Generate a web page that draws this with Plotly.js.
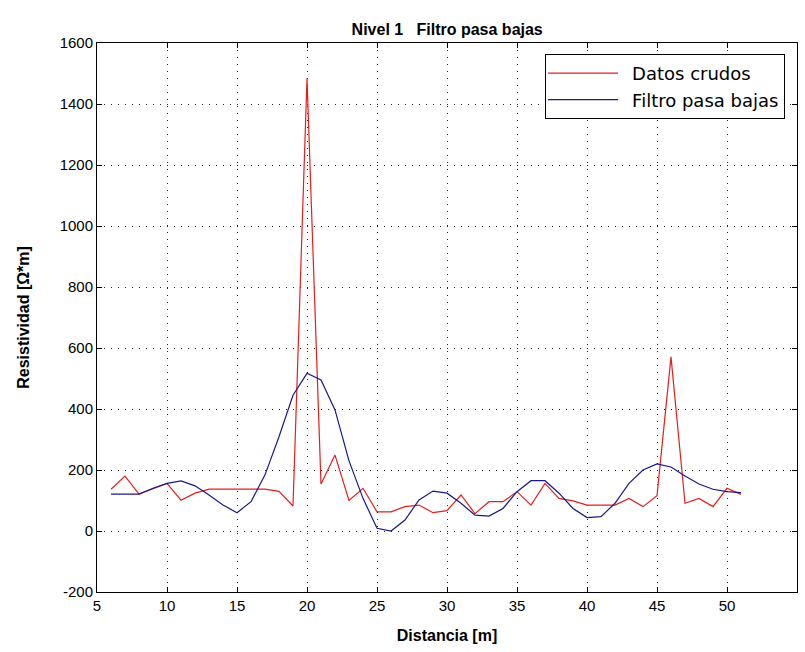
<!DOCTYPE html>
<html>
<head>
<meta charset="utf-8">
<script src="https://cdn.plot.ly/plotly-3.0.1.min.js"></script>
<style>html,body{margin:0;padding:0;background:#fff;}#chart{width:805px;height:652px;}</style>
</head>
<body>
<div id="chart"></div>
<script>
const distancia = [6,7,8,9,10,11,12,13,14,15,16,17,18,19,20,21,22,23,24,25,26,27,28,29,30,31,32,33,34,35,36,37,38,39,40,41,42,43,44,45,46,47,48,49,50,51];
const datosCrudos = [137,180,121,138,156,101,124,137,137,137,137,137,130,82,1484,154,249,100,140,63,63,80,85,60,67,118,57,96,96,129,85,156,107,99,85,85,85,107,80,116,571,91,107,80,140,120];
const filtroPasaBajas = [121,121,121,140,156,164,148,118,85,60,96,184,309,445,517,495,397,230,107,9,0,36,102,131,124,91,52,49,74,129,165,165,124,74,44,47,91,156,200,220,210,180,154,137,129,126];
const xTicks = [5,10,15,20,25,30,35,40,45,50,55];
const yTicks = [-200,0,200,400,600,800,1000,1200,1400,1600];

const fontFam = "'Liberation Sans Narrow', 'Arial Narrow', 'Liberation Sans', Arial, sans-serif";
const legendFont = "'DejaVu Sans', 'Liberation Sans', Arial, sans-serif";

const traces = [
  {x: distancia, y: datosCrudos, type: 'scatter', mode: 'lines', name: 'Datos crudos',
   line: {color: 'rgb(228,30,30)', width: 1.2}},
  {x: distancia, y: filtroPasaBajas, type: 'scatter', mode: 'lines', name: 'Filtro pasa bajas',
   line: {color: 'rgb(25,25,140)', width: 1.2}}
];

const axisCommon = {
  showline: true, linecolor: '#000', linewidth: 1, mirror: 'ticks',
  ticks: 'inside', ticklen: 5, tickcolor: '#000',
  showgrid: true, gridcolor: '#222', griddash: '1px,6px', gridwidth: 1,
  zeroline: false,
  tickfont: {family: fontFam, size: 15, color: '#000'}
};

const layout = {
  width: 805, height: 652,
  margin: {l: 97, r: 8, t: 43, b: 60},
  paper_bgcolor: '#fff', plot_bgcolor: '#fff',
  title: {text: '<b>Nivel 1   Filtro pasa bajas</b>', x: 0.5555, xanchor: 'center', y: 0.955, yanchor: 'middle',
          font: {family: fontFam, size: 16, color: '#000'}},
  xaxis: Object.assign({}, axisCommon, {
    range: [5, 55], tickvals: xTicks, ticktext: xTicks.map(String),
    title: {text: '<b>Distancia [m]</b>', standoff: 16, font: {family: fontFam, size: 16, color: '#000'}}
  }),
  yaxis: Object.assign({}, axisCommon, {
    range: [-200, 1600], tickvals: yTicks, ticktext: yTicks.map(String),
    title: {text: '<b>Resistividad [Ω*m]</b>', standoff: 26, font: {family: fontFam, size: 16, color: '#000'}}
  }),
  showlegend: true,
  legend: {x: 0.983, xanchor: 'right', y: 0.98, yanchor: 'top',
           bgcolor: '#fff', bordercolor: '#000', borderwidth: 1,
           font: {family: legendFont, size: 18, color: '#000'},
           itemwidth: 76, tracegroupgap: 0}
};

Plotly.newPlot('chart', traces, layout, {displayModeBar: false, staticPlot: true}).then(function (gd) {
  // lengthen the legend sample lines to fill the item width, like the reference
  gd.querySelectorAll('.legend .legendlines path').forEach(function (p) {
    p.setAttribute('d', 'M2,0h70');
  });
});
</script>
</body>
</html>
